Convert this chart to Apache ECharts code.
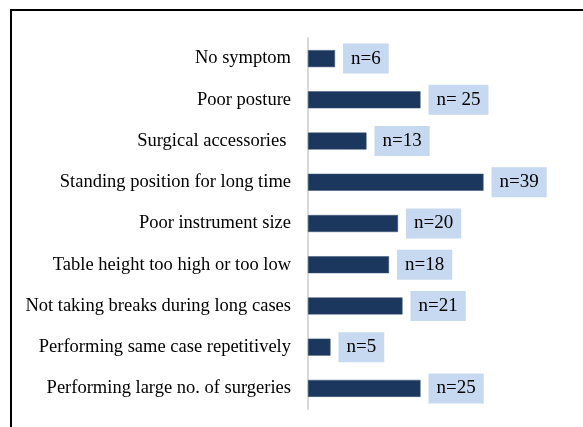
<!DOCTYPE html>
<html>
<head>
<meta charset="utf-8">
<script src="https://cdn.jsdelivr.net/npm/echarts@6/dist/echarts.min.js"></script>
<style>
html,body{margin:0;padding:0;background:#fff;}
#c{width:583px;height:427px;}
</style>
</head>
<body>
<div id="c"></div>
<script>
var categories = [
  'No symptom',
  'Poor posture',
  'Surgical accessories ',
  'Standing position for long time',
  'Poor instrument size',
  'Table height too high or too low',
  'Not taking breaks during long cases',
  'Performing same case repetitively',
  'Performing large no. of surgeries'
];
var values = [6, 25, 13, 39, 20, 18, 21, 5, 25];
var valueLabels = ['n=6', 'n= 25', 'n=13', 'n=39', 'n=20', 'n=18', 'n=21', 'n=5', 'n=25'];

var chart = echarts.init(document.getElementById('c'), null, {renderer: 'canvas'});
var font = '"Liberation Serif", "Times New Roman", serif';
chart.setOption({
  backgroundColor: '#ffffff',
  animation: false,
  grid: {left: 308, top: 38, height: 371, width: 270, containLabel: false},
  xAxis: {
    type: 'value', min: 0, max: 60, show: false,
    splitLine: {show: false}
  },
  yAxis: {
    type: 'category', inverse: true, data: categories, offset: 1,
    axisLine: {show: true, lineStyle: {color: '#d9d9d9', width: 2}},
    axisTick: {show: false},
    axisLabel: {color: '#000', fontFamily: font, fontSize: 18.5, margin: 16}
  },
  graphic: [
    {type: 'line', shape: {x1: 11, y1: 9, x2: 11, y2: 427}, style: {stroke: '#000', lineWidth: 2}},
    {type: 'line', shape: {x1: 10, y1: 10, x2: 583, y2: 10}, style: {stroke: '#000', lineWidth: 2}}
  ],
  series: [{
    type: 'bar',
    data: values,
    barWidth: 17,
    itemStyle: {color: '#1b375e', borderColor: '#3d5577', borderWidth: 0.5},
    label: {
      show: true, position: 'right', distance: 8,
      formatter: function (p) { return valueLabels[p.dataIndex]; },
      color: '#000', fontFamily: font, fontSize: 19, lineHeight: 20,
      backgroundColor: '#c6d9f0', padding: [5, 8, 5, 8]
    }
  }]
});
</script>
</body>
</html>
